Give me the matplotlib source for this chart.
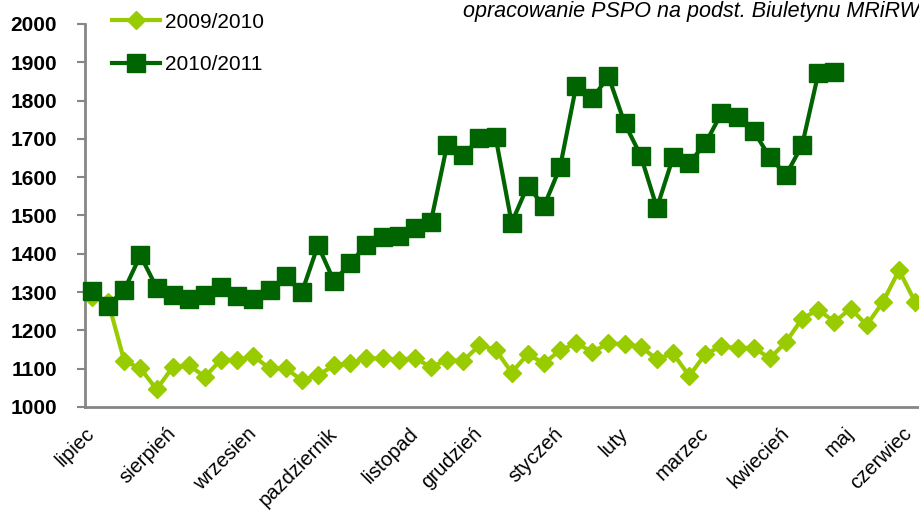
import matplotlib
matplotlib.use("Agg")
import matplotlib.pyplot as plt

plt.rcParams["font.family"] = ["Liberation Sans", "DejaVu Sans"]

s2009 = [1288, 1275, 1120, 1101, 1046, 1104, 1109, 1079, 1124, 1122, 1133, 1101, 1101,
         1070, 1083, 1109, 1114, 1127, 1127, 1124, 1127, 1105, 1122, 1121, 1161, 1150,
         1090, 1138, 1114, 1148, 1166, 1144, 1166, 1164, 1157, 1125, 1140, 1081, 1138,
         1159, 1153, 1155, 1127, 1170, 1231, 1254, 1222, 1257, 1214, 1274, 1357, 1274]
s2010 = [1303, 1265, 1306, 1396, 1312, 1292, 1283, 1292, 1313, 1289, 1283, 1305, 1341,
         1299, 1422, 1328, 1376, 1423, 1444, 1446, 1468, 1484, 1684, 1657, 1702, 1706,
         1481, 1578, 1524, 1626, 1839, 1806, 1863, 1741, 1656, 1520, 1652, 1637, 1688,
         1767, 1756, 1720, 1652, 1606, 1684, 1871, 1874]
months = ["lipiec", "sierpień", "wrzesien", "pazdziernik", "listopad", "grudzień",
          "styczeń", "luty", "marzec", "kwiecień", "maj", "czerwiec"]
month_weeks = [0, 5, 10, 15, 20, 24, 29, 33, 38, 43, 47, 50.6]
yticks = [1000, 1100, 1200, 1300, 1400, 1500, 1600, 1700, 1800, 1900, 2000]

light = "#99CC00"
dark = "#006400"
grey = "#868686"

fig = plt.figure(figsize=(9.2, 5.23), dpi=100)
ax = fig.add_axes([85/920, 1-407/523, 1-85/920, (407-24)/523])

ax.plot(range(len(s2009)), s2009, color=light, lw=3, marker="D", ms=9,
        label="2009/2010", zorder=3, clip_on=False)
ax.plot(range(len(s2010)), s2010, color=dark, lw=3, marker="s", ms=13,
        label="2010/2011", zorder=4, clip_on=False)

ax.set_ylim(1000, 2000)
ax.set_xlim(-7/16.14, 51.3)
ax.set_yticks(yticks)
ax.set_yticklabels([str(v) for v in yticks], fontsize=15, fontweight="bold")
ax.set_xticks(month_weeks)
ax.set_xticklabels(months, fontsize=14.5)
plt.setp(ax.get_xticklabels(), rotation=45, ha="right", va="center",
         rotation_mode="anchor")

for side in ["top", "right"]:
    ax.spines[side].set_visible(False)
for side in ["left", "bottom"]:
    ax.spines[side].set_color(grey)
    ax.spines[side].set_linewidth(2)
ax.tick_params(axis="y", length=6, width=1.5, color=grey, pad=14)
ax.tick_params(axis="x", length=0, pad=17)

fig.legend(loc="upper left", bbox_to_anchor=(100/920, 1.0), frameon=False,
           fontsize=15, handlelength=2.3, handletextpad=0.2, labelspacing=1.15,
           borderaxespad=0.2)

fig.text(463/920, 1-12/523, "opracowanie PSPO na podst. Biuletynu MRiRW",
         fontsize=15.5, style="italic", ha="left", va="center")

fig.savefig("out.png", dpi=100)
